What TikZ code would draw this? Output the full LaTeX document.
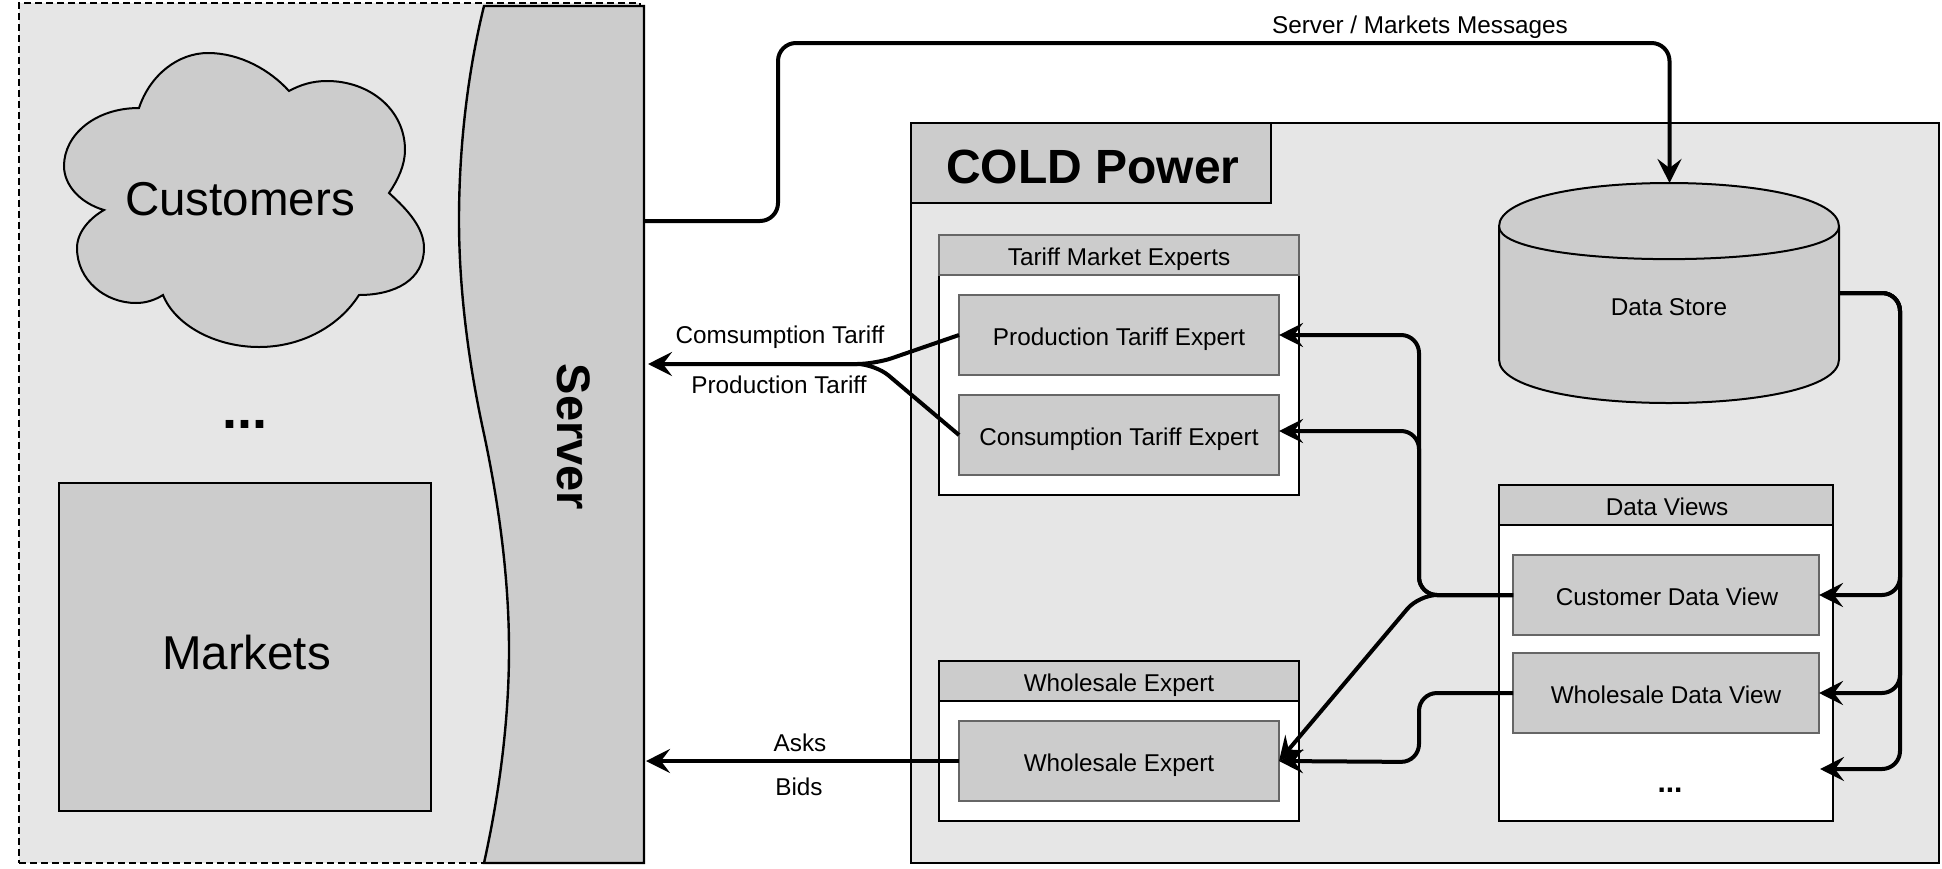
\documentclass[tikz,border=0pt]{standalone}
\usepackage{fontspec}
\setmainfont{Liberation Sans}
\usetikzlibrary{arrows.meta}
\definecolor{panelgray}{HTML}{E6E6E6}
\definecolor{boxgray}{HTML}{CCCCCC}
\definecolor{edgegray}{HTML}{666666}
\tikzset{
  every node/.style={inner sep=0pt,outer sep=0pt,align=center},
  txt/.style={font=\fontsize{24.3}{28}\selectfont,text height=24pt,text depth=4pt},
  big/.style={font=\fontsize{47.5}{54}\selectfont},
  lane/.style={draw=black,line width=2pt,fill=white},
  head/.style={draw=black,line width=2pt,fill=boxgray,txt},
  headgray/.style={draw=edgegray,line width=2pt,fill=boxgray,txt},
  item/.style={draw=edgegray,line width=2.4pt,fill=boxgray,txt,minimum width=320pt,minimum height=80pt},
  shapeline/.style={draw=black,line width=2pt,fill=boxgray},
  conn/.style={draw=black,line width=4pt,rounded corners=18pt,line cap=butt},
  arrowconn/.style={conn,-{Stealth[length=24pt,width=24pt,inset=9pt]}}
}
\begin{document}
\begin{tikzpicture}[x=1pt,y=-1pt]
\useasboundingbox (0,0) rectangle (1942,868);
% left dashed panel
\node[draw=black,line width=1.6pt,dash pattern=on 7pt off 4pt,fill=panelgray,anchor=north west,minimum width=621pt,minimum height=860pt] (env) at (19,3) {};
% cloud
\path[shapeline] (139,108) .. controls (150,75) and (178,53) .. (208,53) .. controls (240,53) and (270,70) .. (289,91)
  .. controls (300,85) and (312,81) .. (327,81) .. controls (370,81) and (405,110) .. (405,150) .. controls (405,165) and (398,180) .. (389,193)
  .. controls (408,210) and (424,228) .. (424,248) .. controls (424,280) and (395,295) .. (359,295)
  .. controls (340,325) and (303,347) .. (259,347) .. controls (215,347) and (175,325) .. (163,295)
  .. controls (155,300) and (146,303) .. (136,303) .. controls (105,303) and (77,280) .. (77,248) .. controls (77,232) and (90,218) .. (104,210)
  .. controls (80,203) and (64,185) .. (64,166) .. controls (64,135) and (95,108) .. (139,108) -- cycle;
\node[big,anchor=base] (customers) at (240,215) {Customers};
\node[font=\fontsize{54}{60}\selectfont\bfseries,anchor=base] (dots) at (245,428) {...};
\node[shapeline,anchor=north west,minimum width=372pt,minimum height=328pt,big,text height=48pt,text depth=4pt] (markets) at (59,483) {\hspace*{3pt}Markets};
% server
\path[shapeline,line width=2.4pt] (484,6) .. controls (467,75) and (459,150) .. (459,220) .. controls (459,295) and (470,370) .. (484,434)
  .. controls (498,500) and (509,575) .. (509,650) .. controls (509,725) and (498,800) .. (484,863) -- (644,863) -- (644,6) -- cycle;
\node[font=\fontsize{47}{54}\selectfont\bfseries,rotate=-90,anchor=base] (server) at (557,437) {Server};
\coordinate (srvMsg) at (644,221);
\coordinate (srvTariff) at (648,364);
\coordinate (srvBid) at (646,761);
% COLD Power panel
\node[draw=black,line width=2pt,fill=panelgray,anchor=north west,minimum width=1028pt,minimum height=740pt] (cold) at (911,123) {};
\node[draw=black,line width=2pt,fill=boxgray,anchor=north west,minimum width=360pt,minimum height=80pt,font=\fontsize{48}{56}\selectfont\bfseries,text height=44pt,text depth=4pt] (coldtitle) at (911,123) {\hspace*{4pt}COLD Power};
% data store
\path[shapeline] (1499,226.5) .. controls (1499,168.5) and (1839,168.5) .. (1839,226.5) -- (1839,359.5) .. controls (1839,417.5) and (1499,417.5) .. (1499,359.5) -- cycle;
\draw[black,line width=2pt] (1499,226.5) .. controls (1499,270) and (1839,270) .. (1839,226.5);
\node[txt] (store) at (1669,305) {Data Store};
\coordinate (storeTop) at (1669.5,183);
\coordinate (storeRight) at (1839,293);
% tariff lane
\node[lane,anchor=north west,minimum width=360pt,minimum height=260pt] (tariffLane) at (939,235) {};
\node[headgray,anchor=north west,minimum width=360pt,minimum height=40pt] (tariffHead) at (939,235) {Tariff Market Experts};
\node[item] (prod) at (1119,335) {Production Tariff Expert};
\node[item] (cons) at (1119,435) {Consumption Tariff Expert};
% wholesale lane
\node[lane,anchor=north west,minimum width=360pt,minimum height=160pt] (wsLane) at (939,661) {};
\node[head,anchor=north west,minimum width=360pt,minimum height=40pt] (wsHead) at (939,661) {Wholesale Expert};
\node[item] (ws) at (1119,761) {Wholesale Expert};
% data views lane
\node[lane,anchor=north west,minimum width=334pt,minimum height=336pt] (viewLane) at (1499,485) {};
\node[head,anchor=north west,minimum width=334pt,minimum height=40pt] (viewHead) at (1499,485) {\hspace*{2pt}Data Views};
\node[item,minimum width=306pt] (cust) at (1666,595) {\hspace*{2pt}Customer Data View};
\node[item,minimum width=306pt] (wsview) at (1666,693) {Wholesale Data View};
\node[font=\fontsize{30}{34}\selectfont\bfseries,anchor=base] (viewDots) at (1670,792) {...};
\coordinate (viewMore) at (1820,769);
\coordinate (consIn) at (1279,431);
% connectors
\draw[arrowconn] (srvMsg) -- (778,221) -- (778,43) -- (storeTop |- 0,43) -- (storeTop);
\draw[arrowconn] (prod.west) -- (875,364) -- (srvTariff);
\draw[conn] (cons.west) -- (875,364) -- (800,364);
\draw[arrowconn] (ws.west) -- (srvBid);
\draw[arrowconn] (cust.west) -- (1419,595) -- (1419,335) -- (prod.east);
\draw[arrowconn] (cust.west) -- (1419,595) -- (1419,431) -- (consIn);
\draw[arrowconn] (cust.west) -- (1419,595) -- (ws.east);
\draw[arrowconn] (wsview.west) -- (1419,693) -- (1419,762) -- (ws.east);
\draw[arrowconn] (storeRight) -- (1900,293) -- (1900,595) -- (cust.east);
\draw[arrowconn] (storeRight) -- (1900,293) -- (1900,693) -- (wsview.east);
\draw[arrowconn] (storeRight) -- (1900,293) -- (1900,769) -- (viewMore);
% connector labels
\node[txt] (lblMsg) at (1420,23) {Server / Markets Messages};
\node[txt] (lblCons) at (780,333) {Comsumption Tariff};
\node[txt] (lblProd) at (779,383) {Production Tariff};
\node[txt] (lblAsks) at (800,741) {Asks};
\node[txt] (lblBids) at (799,785) {Bids};
\end{tikzpicture}
\end{document}
